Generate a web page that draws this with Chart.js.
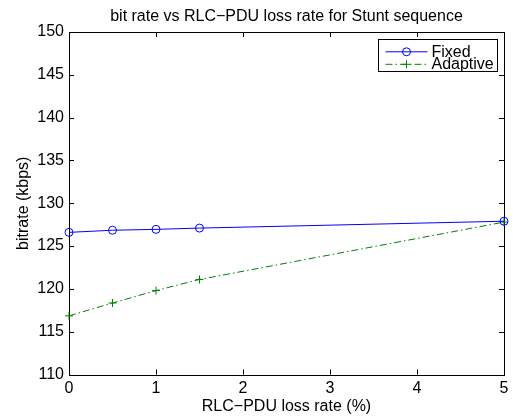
<!DOCTYPE html>
<html>
<head>
<meta charset="utf-8">
<script src="https://cdn.jsdelivr.net/npm/chart.js@4/dist/chart.umd.min.js"></script>
<style>
  html, body { margin: 0; padding: 0; background: #fff; }
  #wrap { width: 513px; height: 419px; }
</style>
</head>
<body>
<div id="wrap"><canvas id="chart" width="513" height="419"></canvas></div>
<script>
// data
const lossRate = [0, 0.5, 1, 1.5, 5];
const fixedRate = [126.6, 126.85, 126.95, 127.1, 127.9];
const adaptiveRate = [116.85, 118.35, 119.8, 121.1, 127.8];
const xTicks = [0, 1, 2, 3, 4, 5];
const yTicks = [110, 115, 120, 125, 130, 135, 140, 145, 150];
const chartTitle = "bit rate vs RLC\u2212PDU loss rate for Stunt sequence";

const FONT = "'Liberation Sans', Arial, Helvetica, sans-serif";

// matlab style box with inward ticks, title centred on the axes
const axesBox = {
  id: "axesBox",
  beforeDatasetsDraw(chart) {
    const { ctx, chartArea: a, scales } = chart;
    const t = 5;
    ctx.save();
    ctx.strokeStyle = "#000";
    ctx.lineWidth = 1;
    ctx.beginPath();
    xTicks.forEach(v => {
      const px = Math.round(scales.x.getPixelForValue(v)) + 0.5;
      ctx.moveTo(px, a.bottom); ctx.lineTo(px, a.bottom - t);
      ctx.moveTo(px, a.top); ctx.lineTo(px, a.top + t);
    });
    yTicks.forEach(v => {
      const py = Math.round(scales.y.getPixelForValue(v)) + 0.5;
      ctx.moveTo(a.left, py); ctx.lineTo(a.left + t, py);
      ctx.moveTo(a.right, py); ctx.lineTo(a.right - t, py);
    });
    ctx.stroke();
    ctx.strokeRect(Math.round(a.left) + 0.5, Math.round(a.top) + 0.5,
      Math.round(a.right - a.left), Math.round(a.bottom - a.top));

    ctx.fillStyle = "#000";
    ctx.font = "16px " + FONT;
    ctx.textAlign = "center";
    ctx.textBaseline = "middle";
    ctx.fillText(chartTitle, (a.left + a.right) / 2, 16.2);
    ctx.restore();
  }
};

function drawMarker(ctx, style, x, y, r) {
  ctx.beginPath();
  if (style === "cross") {
    ctx.moveTo(x - r, y); ctx.lineTo(x + r, y);
    ctx.moveTo(x, y - r); ctx.lineTo(x, y + r);
  } else {
    ctx.arc(x, y, r, 0, Math.PI * 2);
  }
  ctx.stroke();
}

// legend with line sample + marker, like matlab
const boxLegend = {
  id: "boxLegend",
  afterDraw(chart) {
    const { ctx, chartArea: a } = chart;
    const w = 119, h = 32;
    const left = Math.round(a.right - 7 - w) + 0.5;
    const top = Math.round(a.top + 7) + 0.5;
    ctx.save();
    ctx.fillStyle = "#fff";
    ctx.fillRect(left, top, w, h);
    ctx.strokeStyle = "#000";
    ctx.lineWidth = 1;
    ctx.strokeRect(left, top, w, h);
    const rows = [top + 12.3, top + 24.8];
    chart.data.datasets.forEach((ds, i) => {
      const y = rows[i];
      ctx.strokeStyle = ds.borderColor;
      ctx.lineWidth = 1;
      ctx.setLineDash(ds.borderDash || []);
      ctx.beginPath();
      ctx.moveTo(left + 7, y); ctx.lineTo(left + 49, y);
      ctx.stroke();
      ctx.setLineDash([]);
      drawMarker(ctx, ds.pointStyle, left + 28, y, 4);
      ctx.fillStyle = "#000";
      ctx.font = "16px " + FONT;
      ctx.textBaseline = "middle";
      ctx.fillText(ds.label, left + 53, y + 0.5);
    });
    ctx.restore();
  }
};

new Chart(document.getElementById("chart"), {
  type: "line",
  data: {
    datasets: [
      {
        label: "Fixed",
        data: lossRate.map((x, i) => ({ x, y: fixedRate[i] })),
        borderColor: "#0000ff",
        borderWidth: 1,
        pointStyle: "circle",
        pointRadius: 4,
        pointBorderWidth: 1,
        pointBackgroundColor: "rgba(0,0,0,0)",
        pointBorderColor: "#0000ff",
        fill: false,
        tension: 0,
        clip: false
      },
      {
        label: "Adaptive",
        data: lossRate.map((x, i) => ({ x, y: adaptiveRate[i] })),
        borderColor: "#008000",
        borderWidth: 1,
        borderDash: [7, 3, 1.5, 3],
        pointStyle: "cross",
        pointRadius: 4,
        pointBorderWidth: 1,
        pointBorderColor: "#008000",
        fill: false,
        tension: 0,
        clip: false
      }
    ]
  },
  options: {
    responsive: false,
    devicePixelRatio: 1,
    animation: false,
    layout: { padding: { left: 0, right: 9, top: 32, bottom: 0 } },
    scales: {
      x: {
        type: "linear",
        min: 0, max: 5,
        afterBuildTicks: s => { s.ticks = xTicks.map(v => ({ value: v })); },
        afterFit: s => { s.height = 44.5; },
        grid: { display: false, drawTicks: false, tickLength: 0 },
        border: { display: false },
        ticks: { color: "#000", font: { family: FONT, size: 16 }, padding: 4, maxRotation: 0 },
        title: {
          display: true, text: "RLC\u2212PDU loss rate (%)", color: "#000",
          font: { family: FONT, size: 16 }, padding: { top: 0, bottom: 2.7 }
        }
      },
      y: {
        min: 110, max: 150,
        afterBuildTicks: s => { s.ticks = yTicks.map(v => ({ value: v })); },
        afterFit: s => { s.width = 69; },
        grid: { display: false, drawTicks: false, tickLength: 0 },
        border: { display: false },
        ticks: { color: "#000", font: { family: FONT, size: 16 }, padding: 5 },
        title: {
          display: true, text: "bitrate (kbps)", color: "#000",
          font: { family: FONT, size: 16 }, padding: { top: 13.8, bottom: 0 }
        }
      }
    },
    plugins: {
      legend: { display: false },
      tooltip: { enabled: false },
      title: { display: false }
    }
  },
  plugins: [axesBox, boxLegend]
});
</script>
</body>
</html>
